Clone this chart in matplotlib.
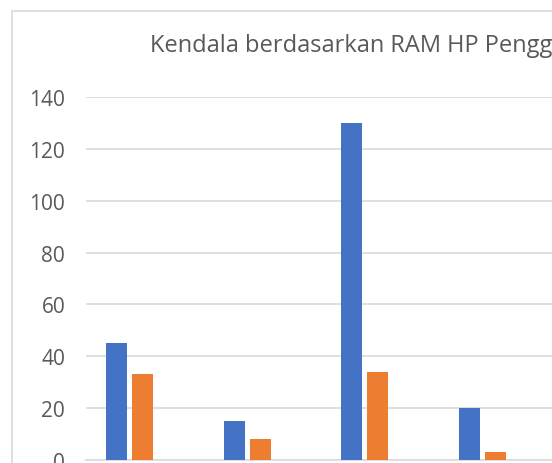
import matplotlib.pyplot as plt
from matplotlib.patches import Rectangle
import numpy as np

# data (4 visible categories, 2 visible series)
categories = ['A', 'B', 'C', 'D']
series_blue = [45, 15, 130, 20]
series_orange = [33, 8, 34, 3]
y_ticks = [0, 20, 40, 60, 80, 100, 120, 140]
title = 'Kendala berdasarkan RAM HP Pengguna'

W, H = 552, 464
plt.rcParams['font.family'] = ['Open Sans', 'DejaVu Sans']
fig = plt.figure(figsize=(W / 100, H / 100), dpi=100)

# chart border (cropped chart, only top and left edges visible)
fig.patches.append(Rectangle((12 / W, -0.1), 1.2, (H - 12) / H + 0.1,
                             transform=fig.transFigure, fill=False,
                             edgecolor='#d9d9d9', linewidth=1.2))

# plot area in pixels
left_px, right_px = 86, W
zero_px, top_px = 461, 98
cat_px = 117.5
ax = fig.add_axes([left_px / W, (H - zero_px) / H, (right_px - left_px) / W,
                   (zero_px - top_px) / H])
ax.set_facecolor('none')

x = np.arange(len(categories))
bw = 21 / cat_px
step = 26 / cat_px
x0 = (142.75 - left_px) / cat_px - 0.5  # first category centre
ax.bar(x + x0 - step, series_blue, bw, color='#4472c4', zorder=3)
ax.bar(x + x0, series_orange, bw, color='#ed7d31', zorder=3)

ax.set_xlim(-0.5, -0.5 + (right_px - left_px) / cat_px)
ax.set_ylim(0, 140)
ax.set_yticks(y_ticks)
ax.set_yticklabels([str(v) for v in y_ticks])
ax.set_xticks([])
ax.yaxis.grid(True, color='#d9d9d9', linewidth=1.2, zorder=0)
ax.tick_params(axis='y', length=0, pad=15, labelsize=15, labelcolor='#595959')
for s in ax.spines.values():
    s.set_visible(False)
ax.axhline(0, color='#d9d9d9', linewidth=1.2, zorder=2, clip_on=False)

fig.text(150 / W, 1 - 52 / H, title, fontsize=17, color='#595959',
         ha='left', va='baseline')

fig.savefig('out.png', dpi=100)
